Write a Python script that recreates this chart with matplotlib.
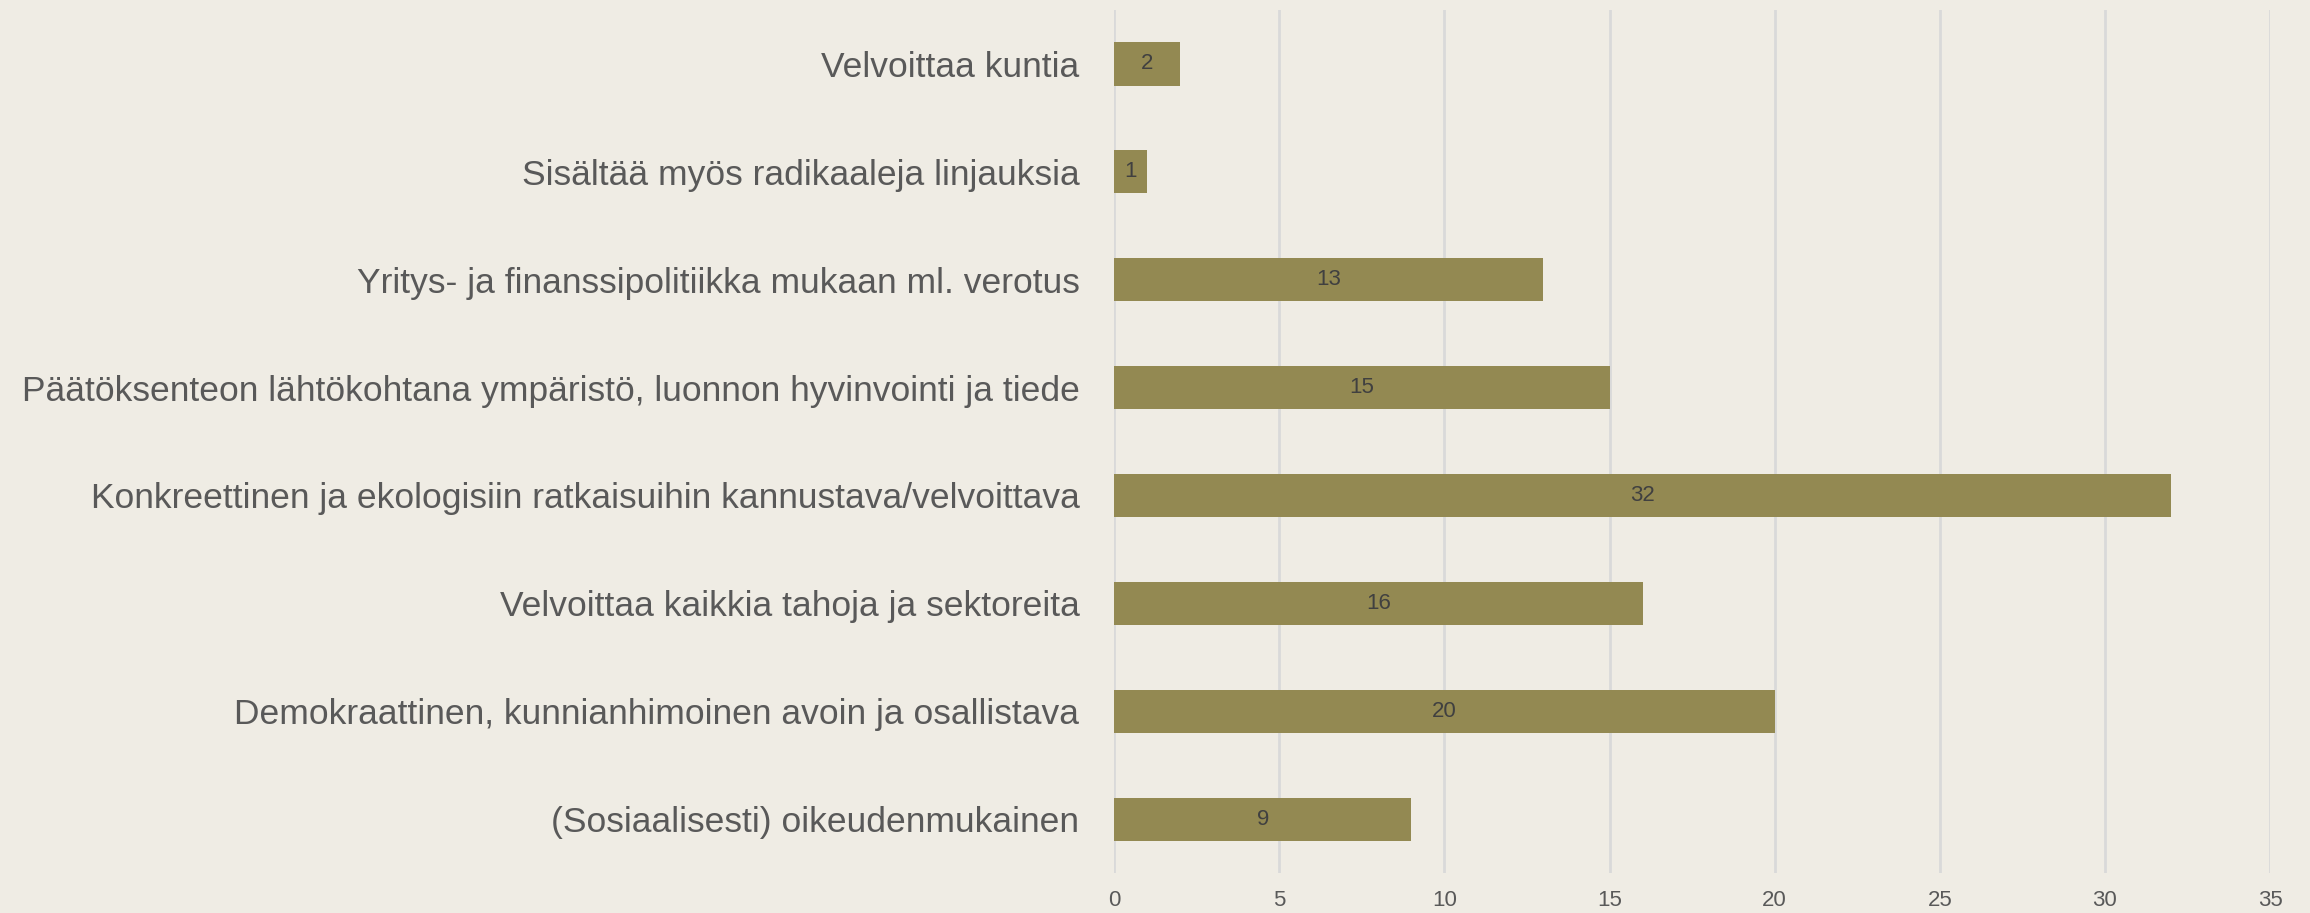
import matplotlib.pyplot as plt

# Categories (bottom to top) and counts
categories = [
    "(Sosiaalisesti) oikeudenmukainen",
    "Demokraattinen, kunnianhimoinen avoin ja osallistava",
    "Velvoittaa kaikkia tahoja ja sektoreita",
    "Konkreettinen ja ekologisiin ratkaisuihin kannustava/velvoittava",
    "Päätöksenteon lähtökohtana ympäristö, luonnon hyvinvointi ja tiede",
    "Yritys- ja finanssipolitiikka mukaan ml. verotus",
    "Sisältää myös radikaaleja linjauksia",
    "Velvoittaa kuntia",
]
counts = [9, 20, 16, 32, 15, 13, 1, 2]
xticks = [0, 5, 10, 15, 20, 25, 30, 35]

bg = "#EFECE4"
bar_color = "#938952"

plt.rcParams['font.family'] = ['Liberation Sans', 'DejaVu Sans']

fig = plt.figure(figsize=(23.1, 9.13), dpi=100, facecolor=bg)
ax = fig.add_axes([0.4823, 0.0438, 0.5004, 0.9452])
ax.set_facecolor(bg)

bars = ax.barh(range(len(categories)), counts, height=0.4, color=bar_color, zorder=3)
ax.bar_label(bars, labels=[str(c) for c in counts], label_type='center',
             color='#404040', fontsize=16)

ax.set_xlim(0, 35)
ax.set_ylim(-0.5, len(categories) - 0.5)
ax.set_xticks(xticks)
ax.set_yticks(range(len(categories)))
ax.set_yticklabels(categories, fontsize=25.5, color='#595959')
ax.tick_params(axis='x', labelsize=16, labelcolor='#595959', length=0, pad=12)
ax.tick_params(axis='y', length=0, pad=25)
ax.grid(axis='x', color='#D9D9D9', linewidth=2, zorder=0)
for s in ax.spines.values():
    s.set_visible(False)

plt.savefig("out.png", dpi=100, facecolor=bg)
